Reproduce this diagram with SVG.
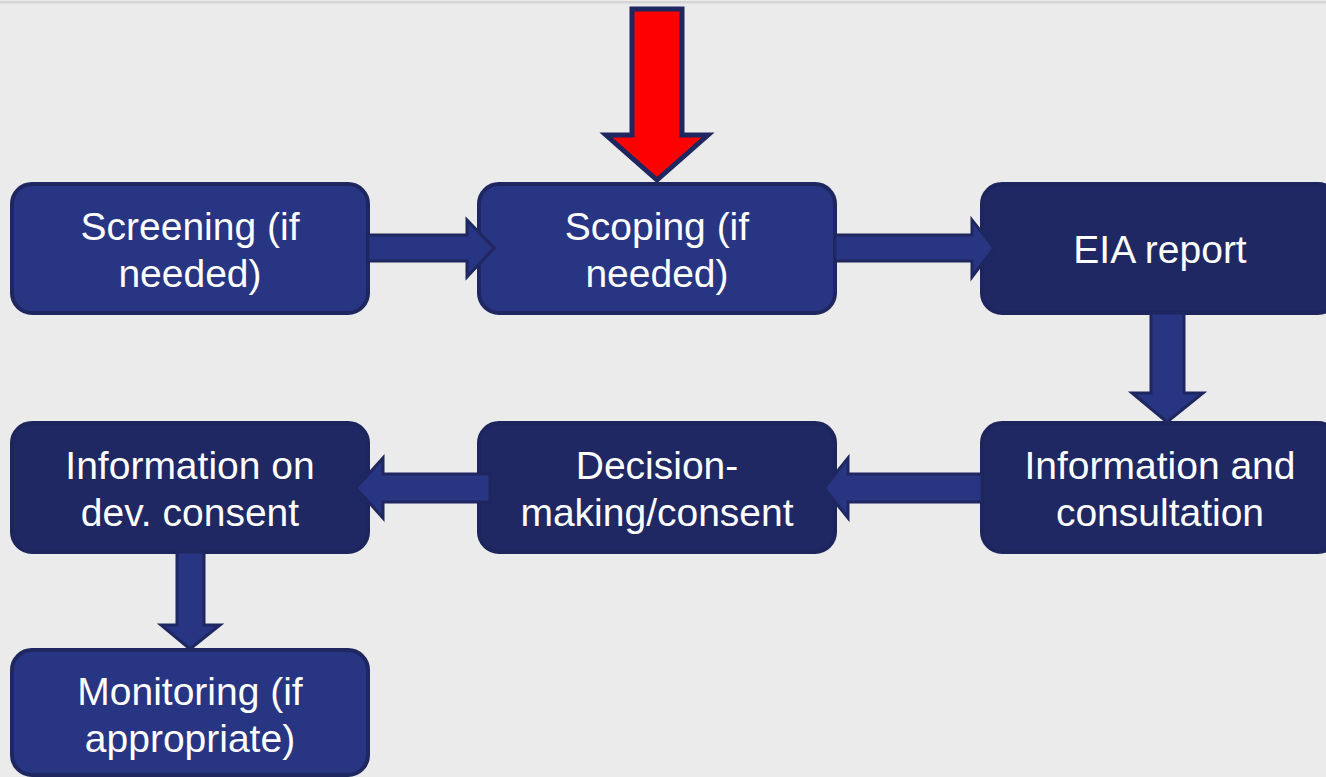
<svg xmlns="http://www.w3.org/2000/svg" width="1326" height="777" viewBox="0 0 1326 777">
<style>
.light{fill:#283583;stroke:#1e275f;stroke-width:4}
.dark{fill:#1f2863;stroke:#1d255d;stroke-width:4}
.lbl{font-family:"Liberation Sans",Arial,sans-serif;font-size:39px;fill:#ffffff;text-anchor:middle}
.conn{fill:#283583;stroke:#1e275f;stroke-width:3;stroke-linejoin:miter}
</style>
<rect x="0" y="0" width="1326" height="777" fill="#ebebeb"/>
<rect x="0" y="1" width="1326" height="2.5" fill="#d6d6d6"/>
<g id="screening">
<rect class="light" x="12" y="184" width="356" height="129" rx="20"/>
<text class="lbl" x="190" y="240">Screening (if</text>
<text class="lbl" x="190" y="287">needed)</text>
</g>
<g id="scoping">
<rect class="light" x="479" y="184" width="356" height="129" rx="20"/>
<text class="lbl" x="657" y="240">Scoping (if</text>
<text class="lbl" x="657" y="287">needed)</text>
</g>
<g id="eia-report">
<rect class="dark" x="982" y="184" width="356" height="129" rx="20"/>
<text class="lbl" x="1160" y="263">EIA report</text>
</g>
<g id="info-consultation">
<rect class="dark" x="982" y="423" width="356" height="129" rx="20"/>
<text class="lbl" x="1160" y="479">Information and</text>
<text class="lbl" x="1160" y="526">consultation</text>
</g>
<g id="decision">
<rect class="dark" x="479" y="423" width="356" height="129" rx="20"/>
<text class="lbl" x="657" y="479">Decision-</text>
<text class="lbl" x="657" y="526">making/consent</text>
</g>
<g id="info-dev-consent">
<rect class="dark" x="12" y="423" width="356" height="129" rx="20"/>
<text class="lbl" x="190" y="479">Information on</text>
<text class="lbl" x="190" y="526">dev. consent</text>
</g>
<g id="monitoring">
<rect class="light" x="12" y="650" width="356" height="125" rx="20"/>
<text class="lbl" x="190" y="705">Monitoring (if</text>
<text class="lbl" x="190" y="752">appropriate)</text>
</g>
<g id="connectors">
<path class="conn" d="M368 235 H467 V220 L494 248 L467 277 V261 H368 Z"/>
<path class="conn" d="M835 235 H972 V220 L994 248 L972 277 V261 H835 Z"/>
<path class="conn" d="M1151 313 V393 H1132 L1167 422 L1203 393 H1184 V313 Z"/>
<path class="conn" d="M982 474 H848 V458 L824 488 L848 518 V502 H982 Z"/>
<path class="conn" d="M490 474 H383 V458 L356 488 L383 518 V502 H490 Z"/>
<path class="conn" d="M177 552 V625 H161 L190 649 L220 625 H204 V552 Z"/>
<path d="M632 9 V135 H606 L657 180 L708 135 H682 V9 Z" fill="#ff0000" stroke="#1e275f" stroke-width="5" stroke-linejoin="miter"/>
</g>
</svg>
